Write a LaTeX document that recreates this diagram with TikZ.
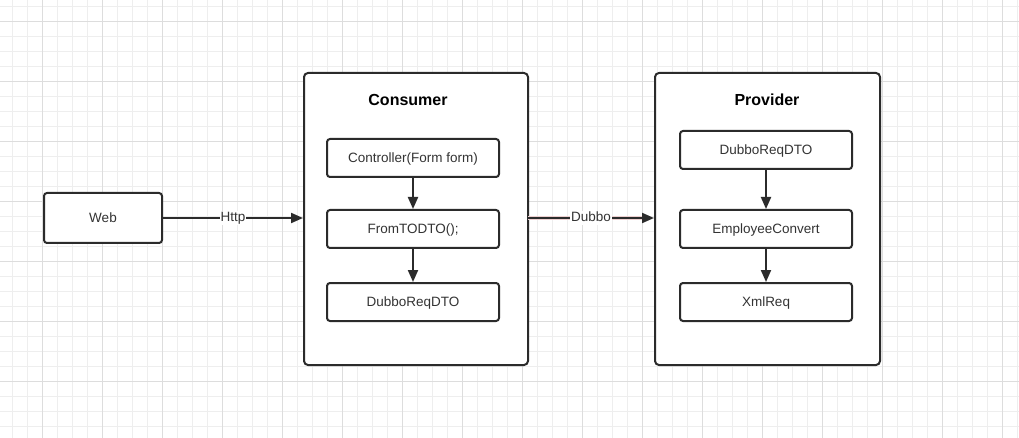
\documentclass[tikz,border=0pt]{standalone}
\usepackage{fontspec}
\setmainfont{Liberation Sans}
\usetikzlibrary{arrows.meta}
\definecolor{ink}{HTML}{2B2B2B}
\definecolor{txt}{HTML}{333333}
\definecolor{gminor}{HTML}{EEEEEE}
\definecolor{gmajor}{HTML}{DDDDDD}
\definecolor{halo}{HTML}{EDD0D0}
\tikzset{
  box/.style={draw=ink, line width=2pt, rounded corners=3pt, fill=white, text=txt, font=\fontsize{13.5}{15}\selectfont, inner sep=0pt, text height=9.5pt, text depth=0.5pt},
  group/.style={draw=ink, line width=2pt, rounded corners=4pt, fill=white},
  title/.style={font=\bfseries\fontsize{16}{18}\selectfont, text=black, text height=11.5pt, text depth=0.5pt},
  conn/.style={draw=ink, line width=2pt, -{Triangle[length=12pt,width=10pt]}},
  lbl/.style={fill=white, text=txt, font=\fontsize{13.5}{15}\selectfont, inner sep=1pt, text height=9.5pt, text depth=2.5pt}
}
\begin{document}
\begin{tikzpicture}[x=1pt,y=-1pt]
\useasboundingbox (0,0) rectangle (1019,438);
\fill[white] (0,0) rectangle (1019,438);
% grid
\foreach \i in {0,...,67} {\draw[gminor, line width=0.9pt] ({12.7+15*\i},0) -- ({12.7+15*\i},438);}
\foreach \j in {0,...,29} {\draw[gminor, line width=0.9pt] (0,{6.7+15*\j}) -- (1019,{6.7+15*\j});}
\foreach \i in {0,...,16} {\draw[gmajor, line width=0.9pt] ({42.7+60*\i},0) -- ({42.7+60*\i},438);}
\foreach \j in {0,...,7} {\draw[gmajor, line width=0.9pt] (0,{21.7+60*\j}) -- (1019,{21.7+60*\j});}

% groups
\node[group, minimum width=224pt, minimum height=292pt, anchor=north west] (cons) at (303,72) {};
\node[group, minimum width=225pt, minimum height=292pt, anchor=north west] (prov) at (654,72) {};
\node[title] (constitle) at (408,100) {Consumer};
\node[title] (provtitle) at (767,100) {Provider};

% web
\node[box, minimum width=118pt, minimum height=50pt] (web) at (103,218) {Web};

% consumer inner
\node[box, minimum width=172pt, minimum height=38pt] (ctrl) at (413,158) {Controller(Form form)};
\node[box, minimum width=172pt, minimum height=38pt] (f2d) at (413,229) {FromTODTO();};
\node[box, minimum width=172pt, minimum height=38pt] (cdto) at (413,302) {DubboReqDTO};

% provider inner
\node[box, minimum width=172pt, minimum height=38pt] (pdto) at (766,150) {DubboReqDTO};
\node[box, minimum width=172pt, minimum height=38pt] (emp) at (766,229) {EmployeeConvert};
\node[box, minimum width=172pt, minimum height=38pt] (xml) at (766,302) {XmlReq};

% connectors
\draw[conn] (web.east) -- node[lbl]{Http} (web.east -| cons.west);
\draw[halo, line width=3.8pt] (528,218) -- (644,218);
\draw[conn] (528,218) coordinate (dstart) (dstart) -- node[lbl]{Dubbo} (dstart -| prov.west);
\draw[conn] (ctrl) -- (f2d);
\draw[conn] (f2d) -- (cdto);
\draw[conn] (pdto) -- (emp);
\draw[conn] (emp) -- (xml);
\end{tikzpicture}
\end{document}
